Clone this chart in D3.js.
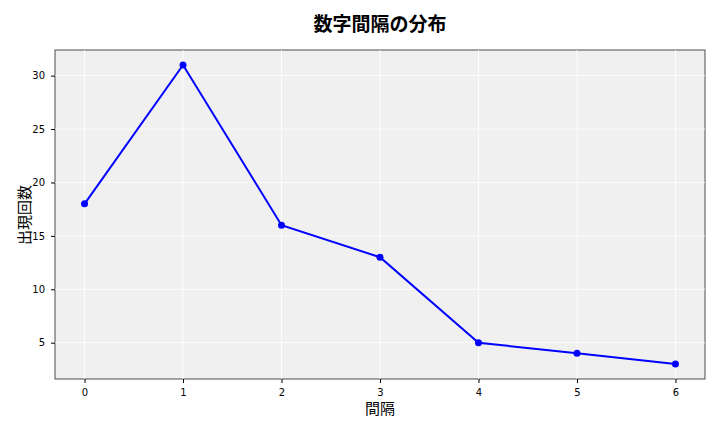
<!DOCTYPE html><html><head><meta charset="utf-8"><script src="https://cdn.jsdelivr.net/npm/d3@7"></script>
<style>body{margin:0;background:#fff}text{font-family:"Noto Sans CJK JP","DejaVu Sans",sans-serif}</style></head><body>
<svg id="c" width="720" height="432"></svg>
<script>
const categories=[0,1,2,3,4,5,6];
const counts=[18,31,16,13,5,4,3];
const xTicks=[0,1,2,3,4,5,6];
const yTicks=[5,10,15,20,25,30];
const svg=d3.select("#c");
const L=55,R=705,T=50,B=379;
const x=d3.scaleLinear().domain([-0.3,6.3]).range([L,R]);
const y=d3.scaleLinear().domain([1.6,32.4]).range([B,T]);
svg.append("rect").attr("x",L).attr("y",T).attr("width",R-L).attr("height",B-T).attr("fill","#f0f0f0").attr("stroke","#222").attr("stroke-width",0.8);
const g=svg.append("g");
g.selectAll(".vx").data(xTicks).join("line").attr("x1",d=>x(d)).attr("x2",d=>x(d)).attr("y1",T).attr("y2",B).attr("stroke","#fff").attr("stroke-width",0.8);
g.selectAll(".hy").data(yTicks).join("line").attr("y1",d=>y(d)).attr("y2",d=>y(d)).attr("x1",L).attr("x2",R).attr("stroke","#fff").attr("stroke-width",0.8);
const xa=svg.append("g").attr("transform",`translate(0,${B})`).call(d3.axisBottom(x).tickValues(xTicks).tickFormat(d3.format("d")).tickSize(4).tickPadding(6));
const ya=svg.append("g").attr("transform",`translate(${L},0)`).call(d3.axisLeft(y).tickValues(yTicks).tickFormat(d3.format("d")).tickSize(4).tickPadding(6));
[xa,ya].forEach(a=>{a.select(".domain").remove();a.selectAll("text").attr("font-size",10).attr("fill","#000").style("font-family","DejaVu Sans");});
svg.append("path").datum(categories.map((c,i)=>[c,counts[i]])).attr("d",d3.line().x(d=>x(d[0])).y(d=>y(d[1]))).attr("fill","none").attr("stroke","#0000ff").attr("stroke-width",2);
svg.selectAll(".pt").data(categories).join("circle").attr("cx",d=>x(d)).attr("cy",(d,i)=>y(counts[i])).attr("r",3.5).attr("fill","#0000ff");
svg.append("text").attr("x",380).attr("y",31).attr("text-anchor","middle").attr("font-size",19).attr("font-weight","bold").text("数字間隔の分布");
svg.append("text").attr("x",380).attr("y",414).attr("text-anchor","middle").attr("font-size",15).text("間隔");
svg.append("text").attr("transform","translate(30,215) rotate(-90)").attr("text-anchor","middle").attr("font-size",15).text("出現回数");
</script></body></html>
